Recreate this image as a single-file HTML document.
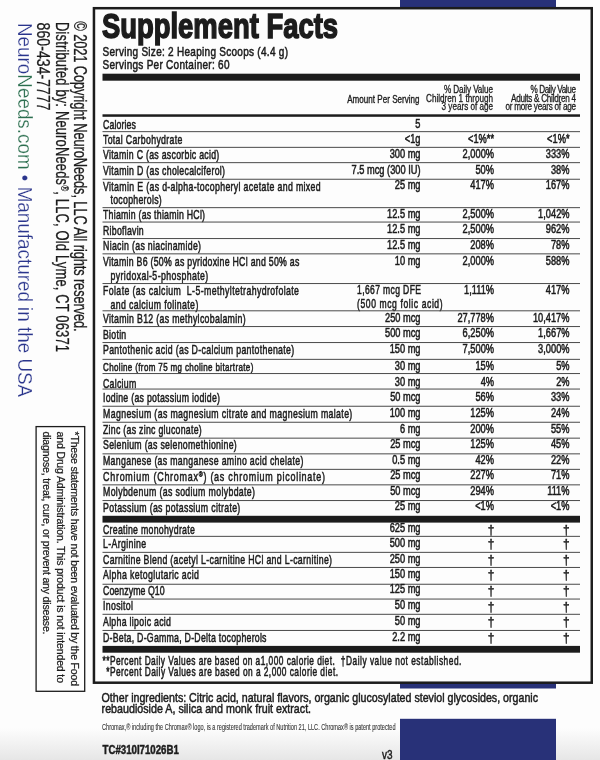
<!DOCTYPE html>
<html><head><meta charset="utf-8"><style>
html,body{margin:0;padding:0;background:#fdfdfd;}
body{width:600px;height:760px;overflow:hidden;position:relative;}
.bg{position:absolute;left:0;top:0;width:600px;height:760px;background:linear-gradient(to bottom,#fdfdfd 0px,#fdfdfd 728px,#e6e6e6 760px);}
svg{position:absolute;left:0;top:0;will-change:transform;}
text{font-family:"Liberation Sans",sans-serif;}
</style></head><body><div class="bg"></div>
<svg width="600" height="760" viewBox="0 0 600 760">
<rect x="400" y="0" width="156" height="7.5" fill="#283178"/>
<rect x="400" y="680" width="156" height="8.5" fill="#283178"/>
<rect x="400" y="718.8" width="156" height="42" fill="#283178"/>
<rect x="94" y="8.2" width="497.8" height="473.8" fill="none" stroke="#1c1c1c" stroke-width="2.5" style="display:none"/>
<rect x="93.95" y="8.2" width="497.8" height="674.5" fill="#fdfdfd" stroke="#1c1c1c" stroke-width="2.5"/>
<text x="102" y="38" font-size="35.9" text-anchor="start" textLength="236" lengthAdjust="spacingAndGlyphs" fill="#1c1c1c" font-weight="bold" stroke="#1c1c1c" stroke-width="1.6">Supplement Facts</text>
<text transform="translate(102.5 55.5) scale(0.77 1)" font-size="13" text-anchor="start" textLength="240.91" lengthAdjust="spacing" fill="#1c1c1c" stroke="#1c1c1c" stroke-width="0.55">Serving Size: 2 Heaping Scoops (4.4 g)</text>
<text transform="translate(102.5 68.6) scale(0.77 1)" font-size="13" text-anchor="start" textLength="164.94" lengthAdjust="spacing" fill="#1c1c1c" stroke="#1c1c1c" stroke-width="0.55">Servings Per Container: 60</text>
<rect x="102.5" y="73.7" width="477.5" height="7" fill="#1c1c1c"/>
<text transform="translate(419.5 103) scale(0.76 1)" font-size="10.6" text-anchor="end" textLength="95.13" lengthAdjust="spacing" fill="#1c1c1c" stroke="#1c1c1c" stroke-width="0.35">Amount Per Serving</text>
<text transform="translate(493 93.3) scale(0.8 1)" font-size="10.2" text-anchor="end" textLength="61.25" lengthAdjust="spacing" fill="#1c1c1c" stroke="#1c1c1c" stroke-width="0.3">% Daily Value</text>
<text transform="translate(493 102.0) scale(0.8 1)" font-size="10.2" text-anchor="end" textLength="83.75" lengthAdjust="spacing" fill="#1c1c1c" stroke="#1c1c1c" stroke-width="0.3">Children 1 through</text>
<text transform="translate(493 110.1) scale(0.8 1)" font-size="10.2" text-anchor="end" textLength="64.25" lengthAdjust="spacing" fill="#1c1c1c" stroke="#1c1c1c" stroke-width="0.3">3 years of age</text>
<text transform="translate(576 93.3) scale(0.8 1)" font-size="10.2" text-anchor="end" textLength="57.0" lengthAdjust="spacing" fill="#1c1c1c" stroke="#1c1c1c" stroke-width="0.3">% Daily Value</text>
<text transform="translate(576 102.0) scale(0.8 1)" font-size="10.2" text-anchor="end" textLength="81.25" lengthAdjust="spacing" fill="#1c1c1c" stroke="#1c1c1c" stroke-width="0.3">Adults &amp; Children 4</text>
<text transform="translate(576 110.1) scale(0.8 1)" font-size="10.2" text-anchor="end" textLength="88.12" lengthAdjust="spacing" fill="#1c1c1c" stroke="#1c1c1c" stroke-width="0.3">or more years of age</text>
<rect x="102.5" y="114.3" width="477.5" height="2.5" fill="#1c1c1c"/>
<text transform="translate(103 129.1) scale(0.68 1)" font-size="12.9" text-anchor="start" textLength="48.53" lengthAdjust="spacing" fill="#1c1c1c" stroke="#1c1c1c" stroke-width="0.55">Calories</text>
<text transform="translate(420.5 127.9) scale(0.735 1)" font-size="12.6" text-anchor="end" fill="#1c1c1c" stroke="#1c1c1c" stroke-width="0.55">5</text>
<rect x="102.5" y="131.15" width="477.5" height="1.0" fill="#4a4a4a"/>
<text transform="translate(103 143.79999999999998) scale(0.68 1)" font-size="12.9" text-anchor="start" textLength="116.62" lengthAdjust="spacing" fill="#1c1c1c" stroke="#1c1c1c" stroke-width="0.55">Total Carbohydrate</text>
<text transform="translate(420.5 142.6) scale(0.735 1)" font-size="12.6" text-anchor="end" fill="#1c1c1c" stroke="#1c1c1c" stroke-width="0.55">&lt;1g</text>
<text transform="translate(494 142.6) scale(0.735 1)" font-size="12.6" text-anchor="end" fill="#1c1c1c" stroke="#1c1c1c" stroke-width="0.55">&lt;1%**</text>
<text transform="translate(569.5 142.6) scale(0.735 1)" font-size="12.6" text-anchor="end" fill="#1c1c1c" stroke="#1c1c1c" stroke-width="0.55">&lt;1%*</text>
<rect x="102.5" y="146.85" width="477.5" height="1.0" fill="#4a4a4a"/>
<text transform="translate(103 159.39999999999998) scale(0.68 1)" font-size="12.9" text-anchor="start" textLength="171.03" lengthAdjust="spacing" fill="#1c1c1c" stroke="#1c1c1c" stroke-width="0.55">Vitamin C (as ascorbic acid)</text>
<text transform="translate(420.5 158.2) scale(0.735 1)" font-size="12.6" text-anchor="end" fill="#1c1c1c" stroke="#1c1c1c" stroke-width="0.55">300 mg</text>
<text transform="translate(494 158.2) scale(0.735 1)" font-size="12.6" text-anchor="end" fill="#1c1c1c" stroke="#1c1c1c" stroke-width="0.55">2,000%</text>
<text transform="translate(569.5 158.2) scale(0.735 1)" font-size="12.6" text-anchor="end" fill="#1c1c1c" stroke="#1c1c1c" stroke-width="0.55">333%</text>
<rect x="102.5" y="162.15" width="477.5" height="1.0" fill="#4a4a4a"/>
<text transform="translate(103 175.1) scale(0.68 1)" font-size="12.9" text-anchor="start" textLength="179.41" lengthAdjust="spacing" fill="#1c1c1c" stroke="#1c1c1c" stroke-width="0.55">Vitamin D (as cholecalciferol)</text>
<text transform="translate(420.5 173.9) scale(0.735 1)" font-size="12.6" text-anchor="end" fill="#1c1c1c" stroke="#1c1c1c" stroke-width="0.55">7.5 mcg (300 IU)</text>
<text transform="translate(494 173.9) scale(0.735 1)" font-size="12.6" text-anchor="end" fill="#1c1c1c" stroke="#1c1c1c" stroke-width="0.55">50%</text>
<text transform="translate(569.5 173.9) scale(0.735 1)" font-size="12.6" text-anchor="end" fill="#1c1c1c" stroke="#1c1c1c" stroke-width="0.55">38%</text>
<rect x="102.5" y="178.75" width="477.5" height="1.0" fill="#4a4a4a"/>
<text transform="translate(103 190.5) scale(0.68 1)" font-size="12.9" text-anchor="start" textLength="320.15" lengthAdjust="spacing" fill="#1c1c1c" stroke="#1c1c1c" stroke-width="0.55">Vitamin E (as d-alpha-tocopheryl acetate and mixed</text>
<text transform="translate(110.5 204.2) scale(0.68 1)" font-size="12.9" text-anchor="start" textLength="75.29" lengthAdjust="spacing" fill="#1c1c1c" stroke="#1c1c1c" stroke-width="0.55">tocopherols)</text>
<text transform="translate(420.5 189.3) scale(0.735 1)" font-size="12.6" text-anchor="end" fill="#1c1c1c" stroke="#1c1c1c" stroke-width="0.55">25 mg</text>
<text transform="translate(494 189.3) scale(0.735 1)" font-size="12.6" text-anchor="end" fill="#1c1c1c" stroke="#1c1c1c" stroke-width="0.55">417%</text>
<text transform="translate(569.5 189.3) scale(0.735 1)" font-size="12.6" text-anchor="end" fill="#1c1c1c" stroke="#1c1c1c" stroke-width="0.55">167%</text>
<rect x="102.5" y="207.15" width="477.5" height="1.0" fill="#4a4a4a"/>
<text transform="translate(103 219.29999999999998) scale(0.68 1)" font-size="12.9" text-anchor="start" textLength="150.0" lengthAdjust="spacing" fill="#1c1c1c" stroke="#1c1c1c" stroke-width="0.55">Thiamin (as thiamin HCl)</text>
<text transform="translate(420.5 218.1) scale(0.735 1)" font-size="12.6" text-anchor="end" fill="#1c1c1c" stroke="#1c1c1c" stroke-width="0.55">12.5 mg</text>
<text transform="translate(494 218.1) scale(0.735 1)" font-size="12.6" text-anchor="end" fill="#1c1c1c" stroke="#1c1c1c" stroke-width="0.55">2,500%</text>
<text transform="translate(569.5 218.1) scale(0.735 1)" font-size="12.6" text-anchor="end" fill="#1c1c1c" stroke="#1c1c1c" stroke-width="0.55">1,042%</text>
<rect x="102.5" y="221.55" width="477.5" height="1.0" fill="#4a4a4a"/>
<text transform="translate(103 234.6) scale(0.68 1)" font-size="12.9" text-anchor="start" textLength="59.93" lengthAdjust="spacing" fill="#1c1c1c" stroke="#1c1c1c" stroke-width="0.55">Riboflavin</text>
<text transform="translate(420.5 233.4) scale(0.735 1)" font-size="12.6" text-anchor="end" fill="#1c1c1c" stroke="#1c1c1c" stroke-width="0.55">12.5 mg</text>
<text transform="translate(494 233.4) scale(0.735 1)" font-size="12.6" text-anchor="end" fill="#1c1c1c" stroke="#1c1c1c" stroke-width="0.55">2,500%</text>
<text transform="translate(569.5 233.4) scale(0.735 1)" font-size="12.6" text-anchor="end" fill="#1c1c1c" stroke="#1c1c1c" stroke-width="0.55">962%</text>
<rect x="102.5" y="238.05" width="477.5" height="1.0" fill="#4a4a4a"/>
<text transform="translate(103 250.29999999999998) scale(0.68 1)" font-size="12.9" text-anchor="start" textLength="144.12" lengthAdjust="spacing" fill="#1c1c1c" stroke="#1c1c1c" stroke-width="0.55">Niacin (as niacinamide)</text>
<text transform="translate(420.5 249.1) scale(0.735 1)" font-size="12.6" text-anchor="end" fill="#1c1c1c" stroke="#1c1c1c" stroke-width="0.55">12.5 mg</text>
<text transform="translate(494 249.1) scale(0.735 1)" font-size="12.6" text-anchor="end" fill="#1c1c1c" stroke="#1c1c1c" stroke-width="0.55">208%</text>
<text transform="translate(569.5 249.1) scale(0.735 1)" font-size="12.6" text-anchor="end" fill="#1c1c1c" stroke="#1c1c1c" stroke-width="0.55">78%</text>
<rect x="102.5" y="253.35" width="477.5" height="1.0" fill="#4a4a4a"/>
<text transform="translate(103 266.0) scale(0.68 1)" font-size="12.9" text-anchor="start" textLength="288.68" lengthAdjust="spacing" fill="#1c1c1c" stroke="#1c1c1c" stroke-width="0.55">Vitamin B6 (50% as pyridoxine HCl and 50% as</text>
<text transform="translate(110.5 279.7) scale(0.68 1)" font-size="12.9" text-anchor="start" textLength="143.82" lengthAdjust="spacing" fill="#1c1c1c" stroke="#1c1c1c" stroke-width="0.55">pyridoxal-5-phosphate)</text>
<text transform="translate(420.5 264.8) scale(0.735 1)" font-size="12.6" text-anchor="end" fill="#1c1c1c" stroke="#1c1c1c" stroke-width="0.55">10 mg</text>
<text transform="translate(494 264.8) scale(0.735 1)" font-size="12.6" text-anchor="end" fill="#1c1c1c" stroke="#1c1c1c" stroke-width="0.55">2,000%</text>
<text transform="translate(569.5 264.8) scale(0.735 1)" font-size="12.6" text-anchor="end" fill="#1c1c1c" stroke="#1c1c1c" stroke-width="0.55">588%</text>
<rect x="102.5" y="283.05" width="477.5" height="1.0" fill="#4a4a4a"/>
<text transform="translate(103 295.4) scale(0.68 1)" font-size="12.9" text-anchor="start" textLength="288.24" lengthAdjust="spacing" fill="#1c1c1c" stroke="#1c1c1c" stroke-width="0.55">Folate (as calcium  L-5-methyltetrahydrofolate</text>
<text transform="translate(110.5 309.09999999999997) scale(0.68 1)" font-size="12.9" text-anchor="start" textLength="129.12" lengthAdjust="spacing" fill="#1c1c1c" stroke="#1c1c1c" stroke-width="0.55">and calcium folinate)</text>
<text transform="translate(357 294.0) scale(0.68 1)" font-size="12.6" text-anchor="start" textLength="94.12" lengthAdjust="spacing" fill="#1c1c1c" stroke="#1c1c1c" stroke-width="0.55">1,667 mcg DFE</text>
<text transform="translate(357 307.7) scale(0.68 1)" font-size="12.6" text-anchor="start" textLength="125.88" lengthAdjust="spacing" fill="#1c1c1c" stroke="#1c1c1c" stroke-width="0.55">(500 mcg folic acid)</text>
<text transform="translate(494 294.2) scale(0.735 1)" font-size="12.6" text-anchor="end" fill="#1c1c1c" stroke="#1c1c1c" stroke-width="0.55">1,111%</text>
<text transform="translate(569.5 294.2) scale(0.735 1)" font-size="12.6" text-anchor="end" fill="#1c1c1c" stroke="#1c1c1c" stroke-width="0.55">417%</text>
<rect x="102.5" y="310.3" width="477.5" height="1.0" fill="#4a4a4a"/>
<text transform="translate(103 323.2) scale(0.68 1)" font-size="12.9" text-anchor="start" textLength="209.71" lengthAdjust="spacing" fill="#1c1c1c" stroke="#1c1c1c" stroke-width="0.55">Vitamin B12 (as methylcobalamin)</text>
<text transform="translate(420.5 322.0) scale(0.735 1)" font-size="12.6" text-anchor="end" fill="#1c1c1c" stroke="#1c1c1c" stroke-width="0.55">250 mcg</text>
<text transform="translate(494 322.0) scale(0.735 1)" font-size="12.6" text-anchor="end" fill="#1c1c1c" stroke="#1c1c1c" stroke-width="0.55">27,778%</text>
<text transform="translate(569.5 322.0) scale(0.735 1)" font-size="12.6" text-anchor="end" fill="#1c1c1c" stroke="#1c1c1c" stroke-width="0.55">10,417%</text>
<rect x="102.5" y="326.05" width="477.5" height="1.0" fill="#4a4a4a"/>
<text transform="translate(103 338.59999999999997) scale(0.68 1)" font-size="12.9" text-anchor="start" textLength="34.19" lengthAdjust="spacing" fill="#1c1c1c" stroke="#1c1c1c" stroke-width="0.55">Biotin</text>
<text transform="translate(420.5 337.4) scale(0.735 1)" font-size="12.6" text-anchor="end" fill="#1c1c1c" stroke="#1c1c1c" stroke-width="0.55">500 mcg</text>
<text transform="translate(494 337.4) scale(0.735 1)" font-size="12.6" text-anchor="end" fill="#1c1c1c" stroke="#1c1c1c" stroke-width="0.55">6,250%</text>
<text transform="translate(569.5 337.4) scale(0.735 1)" font-size="12.6" text-anchor="end" fill="#1c1c1c" stroke="#1c1c1c" stroke-width="0.55">1,667%</text>
<rect x="102.5" y="342.05" width="477.5" height="1.0" fill="#4a4a4a"/>
<text transform="translate(103 354.3) scale(0.68 1)" font-size="12.9" text-anchor="start" textLength="281.18" lengthAdjust="spacing" fill="#1c1c1c" stroke="#1c1c1c" stroke-width="0.55">Pantothenic acid (as D-calcium pantothenate)</text>
<text transform="translate(420.5 353.1) scale(0.735 1)" font-size="12.6" text-anchor="end" fill="#1c1c1c" stroke="#1c1c1c" stroke-width="0.55">150 mg</text>
<text transform="translate(494 353.1) scale(0.735 1)" font-size="12.6" text-anchor="end" fill="#1c1c1c" stroke="#1c1c1c" stroke-width="0.55">7,500%</text>
<text transform="translate(569.5 353.1) scale(0.735 1)" font-size="12.6" text-anchor="end" fill="#1c1c1c" stroke="#1c1c1c" stroke-width="0.55">3,000%</text>
<rect x="102.5" y="358.85" width="477.5" height="1.0" fill="#4a4a4a"/>
<text transform="translate(103 370.9) scale(0.68 1)" font-size="11.8" text-anchor="start" textLength="221.03" lengthAdjust="spacing" fill="#1c1c1c" stroke="#1c1c1c" stroke-width="0.55">Choline (from 75 mg choline bitartrate)</text>
<text transform="translate(420.5 370.0) scale(0.735 1)" font-size="12.6" text-anchor="end" fill="#1c1c1c" stroke="#1c1c1c" stroke-width="0.55">30 mg</text>
<text transform="translate(494 370.0) scale(0.735 1)" font-size="12.6" text-anchor="end" fill="#1c1c1c" stroke="#1c1c1c" stroke-width="0.55">15%</text>
<text transform="translate(569.5 370.0) scale(0.735 1)" font-size="12.6" text-anchor="end" fill="#1c1c1c" stroke="#1c1c1c" stroke-width="0.55">5%</text>
<rect x="102.5" y="373.05" width="477.5" height="1.0" fill="#4a4a4a"/>
<text transform="translate(103 387.9) scale(0.68 1)" font-size="12.9" text-anchor="start" textLength="48.9" lengthAdjust="spacing" fill="#1c1c1c" stroke="#1c1c1c" stroke-width="0.55">Calcium</text>
<text transform="translate(420.5 385.7) scale(0.735 1)" font-size="12.6" text-anchor="end" fill="#1c1c1c" stroke="#1c1c1c" stroke-width="0.55">30 mg</text>
<text transform="translate(494 385.7) scale(0.735 1)" font-size="12.6" text-anchor="end" fill="#1c1c1c" stroke="#1c1c1c" stroke-width="0.55">4%</text>
<text transform="translate(569.5 385.7) scale(0.735 1)" font-size="12.6" text-anchor="end" fill="#1c1c1c" stroke="#1c1c1c" stroke-width="0.55">2%</text>
<rect x="102.5" y="388.55" width="477.5" height="1.0" fill="#4a4a4a"/>
<text transform="translate(103 402.3) scale(0.68 1)" font-size="12.9" text-anchor="start" textLength="172.06" lengthAdjust="spacing" fill="#1c1c1c" stroke="#1c1c1c" stroke-width="0.55">Iodine (as potassium iodide)</text>
<text transform="translate(420.5 401.1) scale(0.735 1)" font-size="12.6" text-anchor="end" fill="#1c1c1c" stroke="#1c1c1c" stroke-width="0.55">50 mcg</text>
<text transform="translate(494 401.1) scale(0.735 1)" font-size="12.6" text-anchor="end" fill="#1c1c1c" stroke="#1c1c1c" stroke-width="0.55">56%</text>
<text transform="translate(569.5 401.1) scale(0.735 1)" font-size="12.6" text-anchor="end" fill="#1c1c1c" stroke="#1c1c1c" stroke-width="0.55">33%</text>
<rect x="102.5" y="405.75" width="477.5" height="1.0" fill="#4a4a4a"/>
<text transform="translate(103 418.3) scale(0.68 1)" font-size="12.9" text-anchor="start" textLength="366.62" lengthAdjust="spacing" fill="#1c1c1c" stroke="#1c1c1c" stroke-width="0.55">Magnesium (as magnesium citrate and magnesium malate)</text>
<text transform="translate(420.5 417.1) scale(0.735 1)" font-size="12.6" text-anchor="end" fill="#1c1c1c" stroke="#1c1c1c" stroke-width="0.55">100 mg</text>
<text transform="translate(494 417.1) scale(0.735 1)" font-size="12.6" text-anchor="end" fill="#1c1c1c" stroke="#1c1c1c" stroke-width="0.55">125%</text>
<text transform="translate(569.5 417.1) scale(0.735 1)" font-size="12.6" text-anchor="end" fill="#1c1c1c" stroke="#1c1c1c" stroke-width="0.55">24%</text>
<rect x="102.5" y="421.75" width="477.5" height="1.0" fill="#4a4a4a"/>
<text transform="translate(103 433.7) scale(0.68 1)" font-size="12.9" text-anchor="start" textLength="145.29" lengthAdjust="spacing" fill="#1c1c1c" stroke="#1c1c1c" stroke-width="0.55">Zinc (as zinc gluconate)</text>
<text transform="translate(420.5 432.5) scale(0.735 1)" font-size="12.6" text-anchor="end" fill="#1c1c1c" stroke="#1c1c1c" stroke-width="0.55">6 mg</text>
<text transform="translate(494 432.5) scale(0.735 1)" font-size="12.6" text-anchor="end" fill="#1c1c1c" stroke="#1c1c1c" stroke-width="0.55">200%</text>
<text transform="translate(569.5 432.5) scale(0.735 1)" font-size="12.6" text-anchor="end" fill="#1c1c1c" stroke="#1c1c1c" stroke-width="0.55">55%</text>
<rect x="102.5" y="437.65" width="477.5" height="1.0" fill="#4a4a4a"/>
<text transform="translate(103 449.4) scale(0.68 1)" font-size="12.9" text-anchor="start" textLength="196.76" lengthAdjust="spacing" fill="#1c1c1c" stroke="#1c1c1c" stroke-width="0.55">Selenium (as selenomethionine)</text>
<text transform="translate(420.5 448.2) scale(0.735 1)" font-size="12.6" text-anchor="end" fill="#1c1c1c" stroke="#1c1c1c" stroke-width="0.55">25 mcg</text>
<text transform="translate(494 448.2) scale(0.735 1)" font-size="12.6" text-anchor="end" fill="#1c1c1c" stroke="#1c1c1c" stroke-width="0.55">125%</text>
<text transform="translate(569.5 448.2) scale(0.735 1)" font-size="12.6" text-anchor="end" fill="#1c1c1c" stroke="#1c1c1c" stroke-width="0.55">45%</text>
<rect x="102.5" y="453.35" width="477.5" height="1.0" fill="#4a4a4a"/>
<text transform="translate(103 464.8) scale(0.68 1)" font-size="12.9" text-anchor="start" textLength="294.56" lengthAdjust="spacing" fill="#1c1c1c" stroke="#1c1c1c" stroke-width="0.55">Manganese (as manganese amino acid chelate)</text>
<text transform="translate(420.5 463.6) scale(0.735 1)" font-size="12.6" text-anchor="end" fill="#1c1c1c" stroke="#1c1c1c" stroke-width="0.55">0.5 mg</text>
<text transform="translate(494 463.6) scale(0.735 1)" font-size="12.6" text-anchor="end" fill="#1c1c1c" stroke="#1c1c1c" stroke-width="0.55">42%</text>
<text transform="translate(569.5 463.6) scale(0.735 1)" font-size="12.6" text-anchor="end" fill="#1c1c1c" stroke="#1c1c1c" stroke-width="0.55">22%</text>
<rect x="102.5" y="468.85" width="477.5" height="1.0" fill="#4a4a4a"/>
<text transform="translate(103 480.5) scale(0.68 1)" font-size="13.2" text-anchor="start" textLength="326.47" lengthAdjust="spacing" fill="#1c1c1c" stroke="#1c1c1c" stroke-width="0.55">Chromium (Chromax<tspan font-size="8" baseline-shift="4">®</tspan>) (as chromium picolinate)</text>
<text transform="translate(420.5 479.3) scale(0.735 1)" font-size="12.6" text-anchor="end" fill="#1c1c1c" stroke="#1c1c1c" stroke-width="0.55">25 mcg</text>
<text transform="translate(494 479.3) scale(0.735 1)" font-size="12.6" text-anchor="end" fill="#1c1c1c" stroke="#1c1c1c" stroke-width="0.55">227%</text>
<text transform="translate(569.5 479.3) scale(0.735 1)" font-size="12.6" text-anchor="end" fill="#1c1c1c" stroke="#1c1c1c" stroke-width="0.55">71%</text>
<rect x="102.5" y="484.35" width="477.5" height="1.0" fill="#4a4a4a"/>
<text transform="translate(103 496.0) scale(0.68 1)" font-size="12.9" text-anchor="start" textLength="223.53" lengthAdjust="spacing" fill="#1c1c1c" stroke="#1c1c1c" stroke-width="0.55">Molybdenum (as sodium molybdate)</text>
<text transform="translate(420.5 494.8) scale(0.735 1)" font-size="12.6" text-anchor="end" fill="#1c1c1c" stroke="#1c1c1c" stroke-width="0.55">50 mcg</text>
<text transform="translate(494 494.8) scale(0.735 1)" font-size="12.6" text-anchor="end" fill="#1c1c1c" stroke="#1c1c1c" stroke-width="0.55">294%</text>
<text transform="translate(569.5 494.8) scale(0.735 1)" font-size="12.6" text-anchor="end" fill="#1c1c1c" stroke="#1c1c1c" stroke-width="0.55">111%</text>
<rect x="102.5" y="500.05" width="477.5" height="1.0" fill="#4a4a4a"/>
<text transform="translate(103 511.65) scale(0.68 1)" font-size="12.9" text-anchor="start" textLength="201.91" lengthAdjust="spacing" fill="#1c1c1c" stroke="#1c1c1c" stroke-width="0.55">Potassium (as potassium citrate)</text>
<text transform="translate(420.5 510.45) scale(0.735 1)" font-size="12.6" text-anchor="end" fill="#1c1c1c" stroke="#1c1c1c" stroke-width="0.55">25 mg</text>
<text transform="translate(494 510.45) scale(0.735 1)" font-size="12.6" text-anchor="end" fill="#1c1c1c" stroke="#1c1c1c" stroke-width="0.55">&lt;1%</text>
<text transform="translate(569.5 510.45) scale(0.735 1)" font-size="12.6" text-anchor="end" fill="#1c1c1c" stroke="#1c1c1c" stroke-width="0.55">&lt;1%</text>
<text transform="translate(103 533.6) scale(0.68 1)" font-size="12.9" text-anchor="start" textLength="135.0" lengthAdjust="spacing" fill="#1c1c1c" stroke="#1c1c1c" stroke-width="0.55">Creatine monohydrate</text>
<text transform="translate(420.5 532.4) scale(0.735 1)" font-size="12.6" text-anchor="end" fill="#1c1c1c" stroke="#1c1c1c" stroke-width="0.55">625 mg</text>
<text transform="translate(491 533.6999999999999) scale(0.9 1)" font-size="13.2" text-anchor="middle" fill="#1c1c1c" stroke="#1c1c1c" stroke-width="0.45">†</text>
<text transform="translate(566.3 533.6999999999999) scale(0.9 1)" font-size="13.2" text-anchor="middle" fill="#1c1c1c" stroke="#1c1c1c" stroke-width="0.45">†</text>
<rect x="102.5" y="535.85" width="477.5" height="1.0" fill="#4a4a4a"/>
<text transform="translate(103 548.1) scale(0.68 1)" font-size="12.9" text-anchor="start" textLength="63.6" lengthAdjust="spacing" fill="#1c1c1c" stroke="#1c1c1c" stroke-width="0.55">L-Arginine</text>
<text transform="translate(420.5 546.9) scale(0.735 1)" font-size="12.6" text-anchor="end" fill="#1c1c1c" stroke="#1c1c1c" stroke-width="0.55">500 mg</text>
<text transform="translate(491 548.1999999999999) scale(0.9 1)" font-size="13.2" text-anchor="middle" fill="#1c1c1c" stroke="#1c1c1c" stroke-width="0.45">†</text>
<text transform="translate(566.3 548.1999999999999) scale(0.9 1)" font-size="13.2" text-anchor="middle" fill="#1c1c1c" stroke="#1c1c1c" stroke-width="0.45">†</text>
<rect x="102.5" y="551.85" width="477.5" height="1.0" fill="#4a4a4a"/>
<text transform="translate(103 563.7) scale(0.68 1)" font-size="12.9" text-anchor="start" textLength="336.76" lengthAdjust="spacing" fill="#1c1c1c" stroke="#1c1c1c" stroke-width="0.55">Carnitine Blend (acetyl L-carnitine HCl and L-carnitine)</text>
<text transform="translate(420.5 562.5) scale(0.735 1)" font-size="12.6" text-anchor="end" fill="#1c1c1c" stroke="#1c1c1c" stroke-width="0.55">250 mg</text>
<text transform="translate(491 563.8) scale(0.9 1)" font-size="13.2" text-anchor="middle" fill="#1c1c1c" stroke="#1c1c1c" stroke-width="0.45">†</text>
<text transform="translate(566.3 563.8) scale(0.9 1)" font-size="13.2" text-anchor="middle" fill="#1c1c1c" stroke="#1c1c1c" stroke-width="0.45">†</text>
<rect x="102.5" y="566.95" width="477.5" height="1.0" fill="#4a4a4a"/>
<text transform="translate(103 579.3000000000001) scale(0.68 1)" font-size="12.9" text-anchor="start" textLength="141.18" lengthAdjust="spacing" fill="#1c1c1c" stroke="#1c1c1c" stroke-width="0.55">Alpha ketoglutaric acid</text>
<text transform="translate(420.5 578.1) scale(0.735 1)" font-size="12.6" text-anchor="end" fill="#1c1c1c" stroke="#1c1c1c" stroke-width="0.55">150 mg</text>
<text transform="translate(491 579.4) scale(0.9 1)" font-size="13.2" text-anchor="middle" fill="#1c1c1c" stroke="#1c1c1c" stroke-width="0.45">†</text>
<text transform="translate(566.3 579.4) scale(0.9 1)" font-size="13.2" text-anchor="middle" fill="#1c1c1c" stroke="#1c1c1c" stroke-width="0.45">†</text>
<rect x="102.5" y="583.75" width="477.5" height="1.0" fill="#4a4a4a"/>
<text transform="translate(103 594.6) scale(0.68 1)" font-size="12.9" text-anchor="start" textLength="90.74" lengthAdjust="spacing" fill="#1c1c1c" stroke="#1c1c1c" stroke-width="0.55">Coenzyme Q10</text>
<text transform="translate(420.5 593.4) scale(0.735 1)" font-size="12.6" text-anchor="end" fill="#1c1c1c" stroke="#1c1c1c" stroke-width="0.55">125 mg</text>
<text transform="translate(491 594.6999999999999) scale(0.9 1)" font-size="13.2" text-anchor="middle" fill="#1c1c1c" stroke="#1c1c1c" stroke-width="0.45">†</text>
<text transform="translate(566.3 594.6999999999999) scale(0.9 1)" font-size="13.2" text-anchor="middle" fill="#1c1c1c" stroke="#1c1c1c" stroke-width="0.45">†</text>
<rect x="102.5" y="598.55" width="477.5" height="1.0" fill="#4a4a4a"/>
<text transform="translate(103 610.4000000000001) scale(0.68 1)" font-size="12.9" text-anchor="start" textLength="44.12" lengthAdjust="spacing" fill="#1c1c1c" stroke="#1c1c1c" stroke-width="0.55">Inositol</text>
<text transform="translate(420.5 609.2) scale(0.735 1)" font-size="12.6" text-anchor="end" fill="#1c1c1c" stroke="#1c1c1c" stroke-width="0.55">50 mg</text>
<text transform="translate(491 610.5) scale(0.9 1)" font-size="13.2" text-anchor="middle" fill="#1c1c1c" stroke="#1c1c1c" stroke-width="0.45">†</text>
<text transform="translate(566.3 610.5) scale(0.9 1)" font-size="13.2" text-anchor="middle" fill="#1c1c1c" stroke="#1c1c1c" stroke-width="0.45">†</text>
<rect x="102.5" y="613.8" width="477.5" height="1.0" fill="#4a4a4a"/>
<text transform="translate(103 626.1) scale(0.68 1)" font-size="12.9" text-anchor="start" textLength="100.0" lengthAdjust="spacing" fill="#1c1c1c" stroke="#1c1c1c" stroke-width="0.55">Alpha lipoic acid</text>
<text transform="translate(420.5 624.9) scale(0.735 1)" font-size="12.6" text-anchor="end" fill="#1c1c1c" stroke="#1c1c1c" stroke-width="0.55">50 mg</text>
<text transform="translate(491 626.1999999999999) scale(0.9 1)" font-size="13.2" text-anchor="middle" fill="#1c1c1c" stroke="#1c1c1c" stroke-width="0.45">†</text>
<text transform="translate(566.3 626.1999999999999) scale(0.9 1)" font-size="13.2" text-anchor="middle" fill="#1c1c1c" stroke="#1c1c1c" stroke-width="0.45">†</text>
<rect x="102.5" y="629.95" width="477.5" height="1.0" fill="#4a4a4a"/>
<text transform="translate(103 641.8000000000001) scale(0.68 1)" font-size="12.9" text-anchor="start" textLength="240.44" lengthAdjust="spacing" fill="#1c1c1c" stroke="#1c1c1c" stroke-width="0.55">D-Beta, D-Gamma, D-Delta tocopherols</text>
<text transform="translate(420.5 640.6) scale(0.735 1)" font-size="12.6" text-anchor="end" fill="#1c1c1c" stroke="#1c1c1c" stroke-width="0.55">2.2 mg</text>
<text transform="translate(491 641.9) scale(0.9 1)" font-size="13.2" text-anchor="middle" fill="#1c1c1c" stroke="#1c1c1c" stroke-width="0.45">†</text>
<text transform="translate(566.3 641.9) scale(0.9 1)" font-size="13.2" text-anchor="middle" fill="#1c1c1c" stroke="#1c1c1c" stroke-width="0.45">†</text>
<rect x="102.5" y="515.8" width="477.5" height="6.8" fill="#1c1c1c"/>
<rect x="102.5" y="645.9" width="477.5" height="6.8" fill="#1c1c1c"/>
<text transform="translate(102.5 664.9) scale(0.68 1)" font-size="12.3" text-anchor="start" textLength="341.62" lengthAdjust="spacing" fill="#1c1c1c" stroke="#1c1c1c" stroke-width="0.55">**Percent Daily Values are based on a1,000 calorie diet.</text>
<text transform="translate(340.8 664.9) scale(0.68 1)" font-size="12.3" text-anchor="start" textLength="177.35" lengthAdjust="spacing" fill="#1c1c1c" stroke="#1c1c1c" stroke-width="0.55">†Daily value not established.</text>
<text transform="translate(106.2 675.9) scale(0.68 1)" font-size="12.3" text-anchor="start" textLength="340.88" lengthAdjust="spacing" fill="#1c1c1c" stroke="#1c1c1c" stroke-width="0.55">*Percent Daily Values are based on a 2,000 calorie diet.</text>
<text x="101.6" y="701.8" font-size="13" text-anchor="start" textLength="436.4" lengthAdjust="spacingAndGlyphs" fill="#1c1c1c" stroke="#1c1c1c" stroke-width="0.5">Other ingredients: Citric acid, natural flavors, organic glucosylated steviol glycosides, organic</text>
<text x="101.6" y="712.9" font-size="13" text-anchor="start" textLength="209.5" lengthAdjust="spacingAndGlyphs" fill="#1c1c1c" stroke="#1c1c1c" stroke-width="0.5">rebaudioside A, silica and monk fruit extract.</text>
<text x="102" y="730" font-size="8.2" text-anchor="start" textLength="293.5" lengthAdjust="spacingAndGlyphs" fill="#333" stroke="#333" stroke-width="0.1">Chromax,® including the Chromax® logo, is a registered trademark of Nutrition 21, LLC. Chromax® is patent protected</text>
<text x="102.5" y="753.8" font-size="12.2" text-anchor="start" textLength="76.3" lengthAdjust="spacingAndGlyphs" fill="#1c1c1c" font-weight="bold" stroke="#1c1c1c" stroke-width="0.5">TC#310I71026B1</text>
<text x="382" y="759" font-size="13.5" text-anchor="start" textLength="10.5" lengthAdjust="spacingAndGlyphs" fill="#1c1c1c" stroke="#1c1c1c" stroke-width="0.55">v3</text>
<rect x="36.1" y="426.6" width="48.6" height="264.7" fill="none" stroke="#1c1c1c" stroke-width="1.3"/>
<text transform="translate(71 431.5) rotate(90) scale(0.9 1)" x="0" y="0" font-size="11.7" textLength="282.78" lengthAdjust="spacing" fill="#1c1c1c" stroke="#1c1c1c" stroke-width="0.25">*These statements have not been evaluated by the Food</text>
<text transform="translate(57 431.5) rotate(90) scale(0.9 1)" x="0" y="0" font-size="11.7" textLength="279.44" lengthAdjust="spacing" fill="#1c1c1c" stroke="#1c1c1c" stroke-width="0.25">and Drug Administration. This product is not intended to</text>
<text transform="translate(43 431.5) rotate(90) scale(0.9 1)" x="0" y="0" font-size="11.7" textLength="225.56" lengthAdjust="spacing" fill="#1c1c1c" stroke="#1c1c1c" stroke-width="0.25">diagnose, treat, cure, or prevent any disease.</text>
<text transform="translate(74.2 21.3) rotate(90) scale(0.74 1)" x="0" y="0" font-size="17.5" textLength="419.46" lengthAdjust="spacing" fill="#1c1c1c" stroke="#1c1c1c" stroke-width="0.3">© 2021 Copyright NeuroNeeds, LLC All rights reserved.</text>
<text transform="translate(55.8 22) rotate(90) scale(0.74 1)" x="0" y="0" font-size="17.5" textLength="445.95" lengthAdjust="spacing" fill="#1c1c1c" stroke="#1c1c1c" stroke-width="0.3">Distributed by: NeuroNeeds<tspan font-size="11" baseline-shift="6">®</tspan>, LLC, Old Lyme, CT 06371</text>
<text transform="translate(37.0 22.6) rotate(90) scale(0.8 1)" x="0" y="0" font-size="17.5" textLength="110.0" lengthAdjust="spacing" fill="#1c1c1c" stroke="#1c1c1c" stroke-width="0.25">860-434-7777</text>
<text transform="translate(17.9 23.0) rotate(90)" font-size="21" textLength="374.2" lengthAdjust="spacingAndGlyphs" fill="#283178" stroke="#fdfdfd" stroke-width="0.25"><tspan fill="#2a358c">Neuro</tspan><tspan fill="#2a6e4e">Needs.com</tspan><tspan fill="#2a358c"> • Manufactured in the USA</tspan></text>
</svg></body></html>
